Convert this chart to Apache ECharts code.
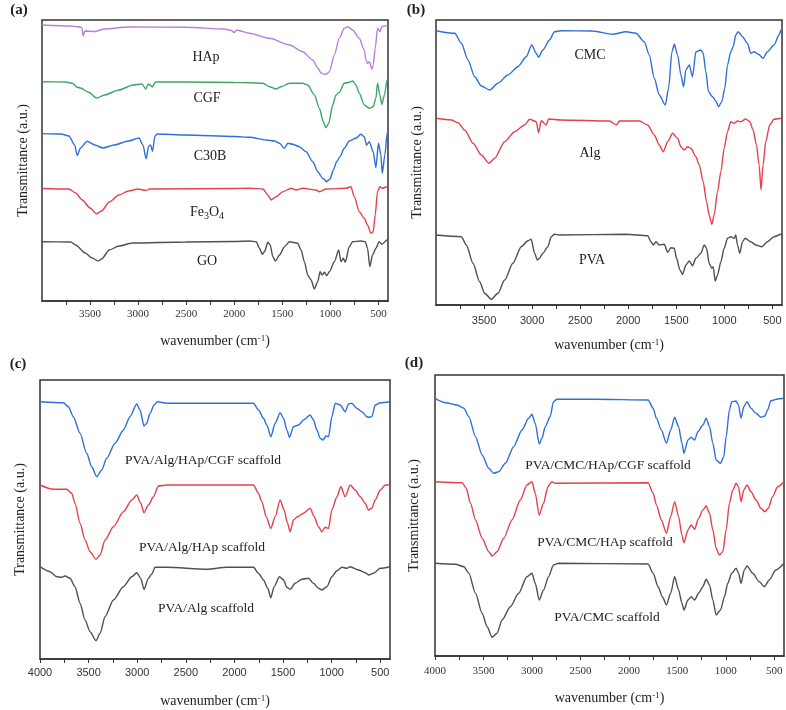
<!doctype html>
<html lang="en">
<head>
<meta charset="UTF-8" />
<title>FTIR spectra</title>
<style>
  html, body { margin: 0; padding: 0; background: #fff; }
  #chart { width: 786px; height: 710px; }
</style>
</head>
<body>
<div id="chart"></div>
<script src="https://cdn.jsdelivr.net/npm/echarts@6.0.0/dist/echarts.min.js"></script>
<script>
// ---- data: [wavenumber (cm-1), transmittance (a.u., stacked offsets)] ----
// panel (a)
const hap = [[4000,276],[3700,275],[3600,274],[3585,273],[3572,265],[3555,270],[3450,269.5],[3350,272],[3100,274],[2500,273.8],[2100,272],[2030,270.5],[2000,268.5],[1975,271],[1840,267.7],[1633,262.7],[1425,256],[1287,249.3],[1183,241],[1131,233],[1097,228],[1070,227],[1045,226.7],[1010,229.3],[958,246],[907,262.7],[855,272.7],[820,274.3],[768,271],[699,262.7],[647,251],[630,241],[613,237.7],[595,239.3],[568,232],[554,236],[533,252.7],[509,272.7],[485,269.3],[464,274.3],[423,275.3],[400,275]];
const cgf = [[4000,219.3],[3750,219],[3680,217.5],[3640,214],[3600,213],[3520,209],[3430,203],[3350,206],[3200,211],[3050,216],[2960,217],[2920,212],[2895,217],[2850,214.3],[2820,219],[2500,219],[2000,218.5],[1840,218.3],[1702,217.7],[1633,214.3],[1564,212],[1512,214.3],[1425,217.7],[1287,217.7],[1235,216],[1166,206],[1114,192.7],[1073,179.3],[1045,173.3],[1017,177.7],[976,196],[941,206],[907,208.7],[855,217.7],[803,218.7],[768,220],[734,216],[699,207.7],[647,196],[595,192.7],[554,194.3],[526,202.7],[509,217.7],[485,206],[464,196.7],[437,206],[409,221],[400,222]];
const c30b = [[4000,167.4],[3800,167],[3720,165],[3660,156],[3634,145.5],[3600,153],[3530,159.7],[3450,156],[3367,153],[3250,156],[3100,160],[2990,163],[2950,156],[2916,142.2],[2890,155],[2870,156],[2850,149.6],[2825,165],[2800,167],[2500,166],[2000,164.5],[1840,163.7],[1667,161],[1581,160],[1529,157.7],[1477,152.7],[1443,157.7],[1391,156.7],[1322,154.3],[1252,149.3],[1183,139.3],[1131,129.3],[1080,122.7],[1038,119.3],[1003,122],[969,131],[934,139.3],[900,144.3],[855,152.7],[803,160],[734,162.7],[682,166.7],[647,164.3],[623,156],[595,159.3],[554,149.3],[526,133.3],[499,157.7],[474,146],[460,127.7],[432,146],[409,167.7],[400,169]];
const fe3o4 = [[4000,112.5],[3720,112],[3650,108],[3580,101],[3500,93],[3433,87.2],[3380,90],[3300,99],[3200,106],[3100,110],[3000,112],[2920,110.5],[2880,112],[2000,112.5],[1840,112.7],[1702,112],[1650,106],[1615,101],[1564,104.3],[1494,109.3],[1408,112.7],[1356,111],[1287,112.7],[1149,111],[1114,109.3],[1045,112],[837,112.7],[786,114.3],[751,104.3],[699,89.3],[647,82.7],[613,76],[578,67.7],[554,69.3],[533,86],[509,109.3],[485,114.3],[460,112.7],[409,114.3],[400,114.5]];
const go = [[4000,59.3],[3700,59],[3650,56],[3550,48],[3480,43],[3415,40],[3380,42],[3300,51],[3200,55],[3056,58],[2500,59],[2000,59.5],[1840,60],[1771,59.3],[1737,52.7],[1709,46.7],[1685,49.3],[1650,58.7],[1626,56],[1598,44.3],[1571,40],[1529,46],[1477,54.3],[1425,59.3],[1339,57.7],[1304,51],[1270,39.3],[1235,26],[1200,21],[1166,12],[1131,19.3],[1107,29.3],[1086,26],[1062,28.7],[1038,25.3],[1010,29.3],[958,39.3],[913,51],[889,39.3],[865,42.7],[845,38.7],[803,54.3],[768,59.3],[682,60],[637,59.3],[613,52.7],[589,34.3],[561,46],[526,52.7],[492,59.3],[464,56.7],[409,61],[400,61]];
// panel (b)
const cmc = [[4000,274.3],[3805,271.7],[3736,261.7],[3667,245],[3598,228.3],[3528,219],[3442,215],[3356,221.7],[3252,230],[3148,238.3],[3061,248.3],[3003,260],[2957,251.7],[2933,247.7],[2888,255],[2819,265],[2767,273.3],[2697,274.3],[2369,274],[2161,270.7],[2023,273.3],[1919,271.7],[1833,263.3],[1781,250],[1729,226.7],[1677,210],[1614,200],[1580,216.7],[1545,253.3],[1521,260.7],[1486,250],[1452,230],[1424,218.3],[1400,235],[1365,240],[1331,228.3],[1296,253.3],[1244,255],[1220,251.7],[1192,233.3],[1165,213.3],[1123,208.3],[1088,204],[1061,198.3],[1026,203.3],[995,216.7],[967,240],[933,253.3],[908,258.3],[881,270],[856,273.3],[811,268.3],[760,261.7],[725,251.7],[690,253.3],[645,250.7],[597,246.7],[552,253.3],[483,260],[431,270],[410,275],[400,277]];
const alg = [[4000,186.7],[3840,185],[3771,182.3],[3701,175],[3615,161.7],[3528,150],[3449,141.7],[3390,146.7],[3286,163.3],[3182,173.3],[3078,180],[3026,185.7],[2957,183.3],[2933,172.3],[2905,184.3],[2853,180],[2829,186],[2700,185],[2196,184],[2120,180],[2092,184],[1884,184],[1798,180],[1729,170],[1677,160],[1635,153.3],[1590,163.3],[1538,171.7],[1486,166.7],[1452,158.3],[1417,155],[1383,158.3],[1348,156.7],[1296,148.3],[1261,140],[1220,123.3],[1185,103.3],[1158,90],[1130,80.7],[1106,90],[1071,113.3],[1036,133.3],[1002,156.7],[967,173.3],[933,183.3],[898,181.7],[863,184],[829,183.3],[777,186],[735,183.3],[701,175],[666,160],[638,140],[618,115],[597,140],[569,163.3],[528,180],[483,185.7],[410,186.7],[400,187]];
const pva = [[4000,70],[3736,68.3],[3684,60],[3615,41.7],[3546,23.3],[3494,11.7],[3424,5.7],[3356,11.7],[3286,25],[3200,41.7],[3113,58.3],[3044,64.3],[3009,65.7],[2974,51.7],[2946,45],[2923,46.7],[2888,51.7],[2836,58.3],[2801,68.3],[2767,70.7],[2715,70],[2023,70.7],[1798,69.3],[1763,63.3],[1739,60],[1711,63.3],[1677,60],[1625,60.7],[1590,52.7],[1556,57.3],[1521,56.7],[1497,46.7],[1462,35],[1434,30.7],[1400,40],[1365,44],[1331,39.3],[1296,46.7],[1244,51.7],[1209,60],[1185,56.7],[1158,41.7],[1130,36.7],[1116,38.3],[1095,24],[1071,30],[1036,43.3],[1002,56.7],[967,66.7],[933,68.3],[898,66.7],[881,70],[863,60],[839,51.7],[811,63.3],[784,66.7],[725,63.3],[673,60],[611,58.3],[552,63.3],[483,68.3],[410,70.7],[400,71]];
// panel (c)
const algHapCgf = [[4000,257.3],[3760,256.3],[3708,252.3],[3657,242.3],[3588,225.7],[3520,205.7],[3468,192.3],[3417,182.3],[3365,189],[3314,200.7],[3228,215.7],[3142,229],[3074,242.3],[3005,255],[2971,249],[2930,233],[2902,235.7],[2868,245.7],[2827,254],[2792,257.3],[2696,255.7],[1804,255.7],[1753,249],[1701,240.7],[1667,234],[1626,222.3],[1581,235.7],[1530,246.3],[1495,240.7],[1461,229],[1434,221.7],[1393,232.3],[1341,234],[1290,239],[1221,244],[1187,239],[1152,229],[1118,220.7],[1091,219],[1056,223],[1032,222.3],[998,242.3],[963,255.7],[912,254],[861,247.3],[826,255],[792,255.7],[741,250.7],[689,247.3],[638,242.3],[621,241.7],[587,242.3],[552,254],[500,256.3],[400,257.3]];
const algHap = [[4000,174],[3863,169.7],[3726,169.7],[3674,165.7],[3640,155.7],[3588,135.7],[3537,119],[3485,107.3],[3424,99.7],[3382,104],[3331,119],[3245,132.3],[3142,147.3],[3056,159],[3005,164],[2964,155.7],[2930,146.3],[2885,154],[2833,162.3],[2782,173],[2696,174],[1804,174],[1753,165.7],[1718,157.3],[1674,142.3],[1626,130.7],[1581,142.3],[1530,159],[1489,149],[1454,135.7],[1427,127.3],[1393,139],[1352,142.3],[1290,145.7],[1221,150.7],[1180,142.3],[1135,132.3],[1101,127.3],[1067,131.7],[1032,130.7],[998,149],[946,162.3],[905,172.3],[861,162.3],[809,174],[758,169],[706,162.3],[655,155.7],[621,149],[587,150.7],[552,159],[500,169],[449,174],[400,174]];
const pvaAlg = [[4000,92.3],[3897,87.3],[3828,82.3],[3777,81.7],[3743,83],[3691,80.7],[3640,72.3],[3588,55.7],[3537,39],[3485,27.3],[3424,18.3],[3382,25.7],[3331,42.3],[3245,59],[3142,72.3],[3056,82.3],[3005,86.3],[2964,80.7],[2930,69.7],[2885,80.7],[2851,85],[2816,91.7],[2696,91.7],[2285,89.7],[2079,91.7],[1804,91.7],[1753,85.7],[1701,79],[1657,70.7],[1626,61.3],[1592,72.3],[1537,82.3],[1495,79],[1461,71.7],[1427,69.7],[1376,75.7],[1307,79.7],[1238,80.7],[1187,75.7],[1135,70.7],[1101,69],[1049,72.3],[998,82.3],[946,88.3],[895,91.7],[844,90.7],[809,92.3],[724,89],[655,86.3],[621,84],[569,85.7],[500,90.7],[400,92.3]];
// panel (d)
const cmcHapCgf = [[4000,257.7],[3890,253.3],[3771,251],[3702,247.7],[3651,239.3],[3582,219.3],[3514,201],[3445,187.7],[3394,182.7],[3343,184.3],[3274,192.7],[3189,209.3],[3103,226],[3034,237.7],[3000,241.7],[2966,232.7],[2925,212],[2897,217.7],[2863,229.3],[2812,239.3],[2778,254.3],[2743,256.7],[2350,256.7],[1802,256],[1750,247.7],[1716,237.7],[1665,226],[1613,212.7],[1569,226],[1528,238.7],[1487,229.3],[1453,212.7],[1432,202.7],[1391,216],[1357,218.7],[1322,216],[1288,224.3],[1237,231],[1203,237.7],[1168,229.3],[1134,212.7],[1100,196],[1055,192.7],[1021,199.3],[997,219.3],[963,246],[939,254.3],[895,255],[870,251],[843,237.7],[815,249.3],[781,254.3],[740,247.7],[689,242.7],[638,238.7],[597,240],[569,246],[535,255.3],[466,257],[400,257.7]];
const cmcHap = [[4000,174.3],[3719,173.3],[3678,167.7],[3634,152.7],[3582,136],[3514,117.7],[3445,104.3],[3411,100],[3360,104.3],[3291,117.7],[3206,136],[3120,156],[3052,171],[3000,174.3],[2966,162.7],[2925,141],[2880,152.7],[2836,169.3],[2795,174.3],[2760,172.7],[1802,173.3],[1750,162.7],[1716,151],[1665,136],[1613,122.7],[1569,139.3],[1528,154.3],[1487,139.3],[1453,121],[1432,113.3],[1391,126],[1357,131],[1322,126.7],[1281,137.7],[1237,146],[1203,150],[1168,142.7],[1134,126],[1100,107.7],[1066,101],[1031,104.3],[997,126],[963,152.7],[928,166],[894,172.7],[870,169.3],[843,154.3],[815,166],[781,171],[740,164.3],[689,156],[638,147.7],[597,144.3],[562,147.7],[518,159.3],[466,169.3],[400,174.3]];
const pvaCmc = [[4000,92.7],[3788,91.7],[3702,89.3],[3651,82.7],[3582,62.7],[3514,42.7],[3462,29.3],[3411,18.7],[3360,22.7],[3308,36],[3223,49.3],[3137,62.7],[3052,79.3],[3000,82.7],[2966,72.7],[2925,56],[2880,66],[2829,79.3],[2778,91],[2726,92.7],[1802,92],[1750,82.7],[1699,69.3],[1654,59.3],[1613,51],[1569,62.7],[1528,79.3],[1487,66],[1453,52.7],[1432,46],[1391,56],[1357,59.3],[1322,56],[1281,62.7],[1237,69.3],[1203,76.7],[1168,71],[1134,56],[1100,41],[1055,46],[1014,59.3],[980,72.7],[939,82.7],[894,87.7],[870,83.3],[843,72.7],[809,86],[781,90],[723,82.7],[655,74.3],[603,69.3],[552,76],[484,86],[400,92.7]];

// axis ticks
const minorTicks = [500,750,1000,1250,1500,1750,2000,2250,2500,2750,3000,3250,3500,3750];
const tickLabelsAB = [500,1000,1500,2000,2500,3000,3500];
const tickLabelsCD = [500,1000,1500,2000,2500,3000,3500,4000];

const BLUE = '#2e6fd9', RED = '#e5404b', GREEN = '#3aa864', PURPLE = '#b57fe0', GRAY = '#505050';
const SERIF = 'Liberation Serif', SANS = 'Liberation Sans';

const grids = [
  { left: 42, top: 20, width: 346, height: 281 },
  { left: 436, top: 20, width: 346, height: 285 },
  { left: 40, top: 380, width: 350, height: 279 },
  { left: 435, top: 375, width: 349, height: 281 }
].map(g => Object.assign(g, { show: true, borderColor: '#333', borderWidth: 1.5, containLabel: false, outerBoundsMode: 'none' }));

function xAxis(i, labels, font, gap, margin) {
  return {
    type: 'value', gridIndex: i, min: 400, max: 4000, inverse: true,
    name: '{n|wavenumber (cm}{s|-1}{n|)}', nameLocation: 'middle', nameGap: gap,
    nameTextStyle: {
      rich: {
        n: { fontFamily: SERIF, fontSize: 14, color: '#222' },
        s: { fontFamily: SERIF, fontSize: 9, color: '#222', verticalAlign: 'top', padding: [0, 0, 6, 0] }
      }
    },
    axisLine: { show: true, lineStyle: { color: '#333', width: 1.5 } },
    axisTick: { show: true, length: 4, customValues: i < 2 ? minorTicks : minorTicks.concat([4000]), lineStyle: { color: '#333' } },
    axisLabel: { customValues: labels, formatter: v => String(v), fontFamily: font, fontSize: 11, color: '#333', margin: margin },
    splitLine: { show: false }
  };
}
function yAxis(i, max, gap) {
  return {
    type: 'value', gridIndex: i, min: 0, max: max,
    name: 'Transmittance (a.u.)', nameLocation: 'middle', nameGap: gap,
    nameTextStyle: { fontFamily: SERIF, fontSize: 14, color: '#222' },
    axisLine: { show: false }, axisTick: { show: false }, axisLabel: { show: false },
    splitLine: { show: false }
  };
}
function spectrum(name, data, color, i) {
  return {
    name: name, type: 'line', data: data, xAxisIndex: i, yAxisIndex: i,
    showSymbol: false, smooth: 0.25, smoothMonotone: 'x',
    lineStyle: { color: color, width: 1.4 }, itemStyle: { color: color }, silent: true
  };
}
function txt(x, y, text, size, bold) {
  return {
    type: 'text', x: x, y: y,
    style: {
      text: text, fill: '#222', align: 'center', verticalAlign: 'middle',
      font: (bold ? 'bold ' : '') + size + 'px "Liberation Serif"',
      rich: {
        n: { fontFamily: SERIF, fontSize: size, fill: '#222' },
        b: { fontFamily: SERIF, fontSize: 10, fill: '#222', padding: [8, 0, 0, 0] }
      }
    }
  };
}

const chart = echarts.init(document.getElementById('chart'));
chart.setOption({
  animation: false,
  backgroundColor: '#fff',
  grid: grids,
  xAxis: [xAxis(0, tickLabelsAB, SERIF, 33, 8), xAxis(1, tickLabelsAB, SANS, 33, 10), xAxis(2, tickLabelsCD, SANS, 35, 8), xAxis(3, tickLabelsCD, SERIF, 35, 10)],
  yAxis: [yAxis(0, 281, 12), yAxis(1, 285, 12), yAxis(2, 279, 13), yAxis(3, 281, 14)],
  series: [
    spectrum('HAp', hap, PURPLE, 0),
    spectrum('CGF', cgf, GREEN, 0),
    spectrum('C30B', c30b, BLUE, 0),
    spectrum('Fe3O4', fe3o4, RED, 0),
    spectrum('GO', go, GRAY, 0),
    spectrum('CMC', cmc, BLUE, 1),
    spectrum('Alg', alg, RED, 1),
    spectrum('PVA', pva, GRAY, 1),
    spectrum('PVA/Alg/HAp/CGF scaffold', algHapCgf, BLUE, 2),
    spectrum('PVA/Alg/HAp scaffold', algHap, RED, 2),
    spectrum('PVA/Alg scaffold', pvaAlg, GRAY, 2),
    spectrum('PVA/CMC/HAp/CGF scaffold', cmcHapCgf, BLUE, 3),
    spectrum('PVA/CMC/HAp scaffold', cmcHap, RED, 3),
    spectrum('PVA/CMC scaffold', pvaCmc, GRAY, 3)
  ],
  graphic: [
    txt(19, 10, '(a)', 15, true),
    txt(416, 10, '(b)', 15, true),
    txt(18, 364, '(c)', 15, true),
    txt(414, 363, '(d)', 15, true),
    txt(206, 57, 'HAp', 14),
    txt(207, 98, 'CGF', 14),
    txt(210, 156, 'C30B', 14),
    txt(207, 212, '{n|Fe}{b|3}{n|O}{b|4}', 14),
    txt(207, 261, 'GO', 14),
    txt(590, 55, 'CMC', 14),
    txt(590, 153, 'Alg', 14),
    txt(592, 260, 'PVA', 14),
    txt(203, 460, 'PVA/Alg/HAp/CGF scaffold', 13.5),
    txt(202, 547, 'PVA/Alg/HAp scaffold', 13.5),
    txt(206, 608, 'PVA/Alg scaffold', 13.5),
    txt(608, 465, 'PVA/CMC/HAp/CGF scaffold', 13.5),
    txt(605, 542, 'PVA/CMC/HAp scaffold', 13.5),
    txt(607, 617, 'PVA/CMC scaffold', 13.5)
  ]
});
</script>
</body>
</html>
